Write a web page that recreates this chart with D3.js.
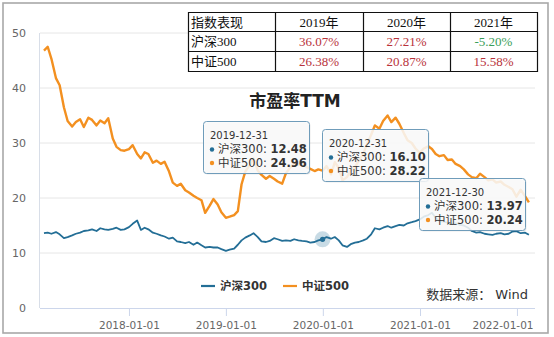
<!DOCTYPE html>
<html><head><meta charset="utf-8">
<script src="https://cdn.jsdelivr.net/npm/d3@7"></script>
<style>
html,body{margin:0;padding:0;background:#fff;}
svg{display:block;}
</style></head>
<body><svg id="c" width="554" height="337"></svg>
<script>
// ---------- data ----------
const dates = [
"2017-02-15","2017-03-01","2017-03-15","2017-04-01","2017-04-15","2017-05-01","2017-05-15","2017-06-01","2017-06-15","2017-07-01","2017-07-15","2017-08-01","2017-08-15","2017-09-01","2017-09-15","2017-10-01","2017-10-15","2017-11-01","2017-11-15","2017-12-01","2017-12-15",
"2018-01-01","2018-01-15","2018-02-01","2018-02-15","2018-03-01","2018-03-15","2018-04-01","2018-04-15","2018-05-01","2018-05-15","2018-06-01","2018-06-15","2018-07-01","2018-07-15","2018-08-01","2018-08-15","2018-09-01","2018-09-15","2018-10-01","2018-10-15","2018-11-01","2018-11-15","2018-12-01","2018-12-15",
"2019-01-01","2019-01-15","2019-02-01","2019-02-15","2019-03-01","2019-03-15","2019-04-01","2019-04-15","2019-05-01","2019-05-15","2019-06-01","2019-06-15","2019-07-01","2019-07-15","2019-08-01","2019-08-15","2019-09-01","2019-09-15","2019-10-01","2019-10-15","2019-11-01","2019-11-15","2019-12-01","2019-12-15","2019-12-31",
"2020-01-15","2020-02-01","2020-02-15","2020-03-01","2020-03-15","2020-04-01","2020-04-15","2020-05-01","2020-05-15","2020-06-01","2020-06-15","2020-07-01","2020-07-15","2020-08-01","2020-08-15","2020-09-01","2020-09-15","2020-10-01","2020-10-15","2020-11-01","2020-11-15","2020-12-01","2020-12-15","2020-12-31",
"2021-01-15","2021-02-01","2021-02-15","2021-03-01","2021-03-15","2021-04-01","2021-04-15","2021-05-01","2021-05-15","2021-06-01","2021-06-15","2021-07-01","2021-07-15","2021-08-01","2021-08-15","2021-09-01","2021-09-15","2021-10-01","2021-10-15","2021-11-01","2021-11-15","2021-12-01","2021-12-15","2021-12-30",
"2022-01-15","2022-02-01","2022-02-15"
];
const hs300 = [
13.6,13.7,13.5,13.8,13.4,12.7,12.9,13.2,13.5,13.7,14.0,14.1,14.3,14.0,14.5,14.3,14.2,14.4,14.6,14.2,14.3,
14.7,15.3,15.9,14.2,14.6,14.3,13.7,13.5,13.2,13.0,12.6,12.8,12.1,12.0,11.8,12.0,11.5,11.9,11.4,11.0,11.1,11.0,11.0,10.7,
10.4,10.6,10.8,11.5,12.3,12.8,13.2,13.6,12.9,12.1,12.0,12.2,12.7,12.5,12.2,12.3,12.2,12.5,12.3,12.2,12.1,11.9,12.0,12.3,12.48,
12.9,12.6,12.9,12.3,11.4,11.1,11.6,11.9,12.0,12.3,12.6,13.4,14.5,14.3,14.6,14.9,14.6,14.9,15.1,15.0,15.4,15.6,15.8,16.10,
16.6,16.9,17.3,16.4,15.8,15.7,15.5,15.3,15.4,15.1,15.0,14.6,14.0,13.7,13.8,13.5,13.4,13.3,13.5,13.6,13.4,13.5,13.9,13.97,
13.6,13.7,13.3
];
const zz500 = [
46.8,47.5,45.3,41.8,40.5,36.5,34.0,33.0,33.8,34.3,32.9,34.6,34.2,33.2,34.1,33.6,34.5,30.8,29.3,28.7,28.6,
28.9,29.6,28.0,27.2,28.3,28.0,26.4,26.8,26.2,26.6,24.8,22.8,22.2,22.6,21.4,21.0,20.4,20.0,19.6,17.3,18.6,19.8,18.8,17.4,
16.4,16.6,16.9,17.6,22.5,24.8,26.0,27.2,25.0,24.2,23.5,24.0,23.5,23.0,22.6,24.5,25.6,26.4,26.0,26.5,25.6,25.3,24.9,25.2,24.96,
25.8,24.3,26.5,25.5,23.2,23.8,25.0,25.6,26.8,28.0,29.8,31.5,33.2,32.6,34.0,35.0,33.8,34.6,33.5,31.8,30.5,30.0,29.0,28.22,
29.0,29.4,28.9,28.0,27.6,27.8,26.9,27.0,26.2,25.8,25.2,24.3,23.8,23.6,24.4,23.8,23.2,23.4,22.8,23.0,22.4,22.0,21.6,20.24,
21.5,20.3,19.2
];
const seriesNames = ["沪深300","中证500"];
const yTicks = [0,10,20,30,40,50];
const xTickLabels = ["2018-01-01","2019-01-01","2020-01-01","2021-01-01","2022-01-01"];
const tooltipDates = ["2019-12-31","2020-12-31","2021-12-30"];
const tableHeader = ["指数表现","2019年","2020年","2021年"];
const tableRows = [["沪深300","36.07%","27.21%","-5.20%"],["中证500","26.38%","20.87%","15.58%"]];
const chartTitle = "市盈率TTM";
const sourceNote = "数据来源： Wind";

// ---------- layout ----------
const W=554,H=337;
const L=40,R=535,T=33,B=308;
const blue="#236e96", orange="#f39020";
const font="'DejaVu Sans','Noto Sans CJK SC',sans-serif";
const tfont="'Liberation Serif','Noto Sans CJK SC',serif";
const parse=d3.timeParse("%Y-%m-%d");
const svg=d3.select("#c");

svg.append("rect").attr("x",3).attr("y",3).attr("width",545).attr("height",330)
  .attr("fill","#fff").attr("stroke","#a8a8a8").attr("stroke-width",1.6);

const x=d3.scaleTime().domain([parse("2017-01-31"),parse("2022-03-10")]).range([L,R]);
const y=d3.scaleLinear().domain([0,50]).range([B,T]);

// grid
svg.append("g").selectAll("line").data(yTicks.filter(v=>v>0)).join("line")
  .attr("x1",L).attr("x2",R).attr("y1",d=>y(d)).attr("y2",d=>y(d))
  .attr("stroke","#e6e6e6").attr("stroke-width",1);
// y axis line
svg.append("line").attr("x1",L-0.5).attr("x2",L-0.5).attr("y1",T).attr("y2",B).attr("stroke","#d8dee8");
// y labels
const yAxis=d3.axisLeft(y).tickValues(yTicks).tickSize(0).tickPadding(14);
const gy=svg.append("g").attr("transform",`translate(${L},0)`).call(yAxis);
gy.select(".domain").remove();
gy.selectAll("text").attr("font-family",font).attr("font-size",11).attr("fill","#666");

// x axis
const xAxis=d3.axisBottom(x).tickValues(xTickLabels.map(parse)).tickSize(8).tickPadding(6)
  .tickFormat(d3.timeFormat("%Y-%m-%d"));
const gx=svg.append("g").attr("transform",`translate(0,${B})`).call(xAxis);
gx.select(".domain").attr("stroke","#ccd6eb").attr("d",`M${L},0.5H${R}`);
gx.selectAll(".tick line").attr("stroke","#ccd6eb");
gx.selectAll("text").attr("font-family",font).attr("font-size",10.5).attr("fill","#666");
gx.selectAll(".tick text").filter((d,i)=>i===xTickLabels.length-1)
  .attr("text-anchor","end").attr("x",533-x(parse(xTickLabels[xTickLabels.length-1])));

// lines
const pts=(vals)=>dates.map((d,i)=>({d:parse(d),v:vals[i]}));
const line=d3.line().x(p=>x(p.d)).y(p=>y(p.v)).curve(d3.curveLinear);
svg.append("path").datum(pts(zz500)).attr("d",line).attr("fill","none")
  .attr("stroke",orange).attr("stroke-width",2.4).attr("stroke-linejoin","round");
svg.append("path").datum(pts(hs300)).attr("d",line).attr("fill","none")
  .attr("stroke",blue).attr("stroke-width",1.8).attr("stroke-linejoin","round");

// hover halo on first tooltip point
{
  const i=dates.indexOf(tooltipDates[0]);
  const cx=x(parse(dates[i])), cy=y(hs300[i]);
  svg.append("circle").attr("cx",cx).attr("cy",cy).attr("r",8).attr("fill",blue).attr("opacity",0.25);
  svg.append("circle").attr("cx",cx).attr("cy",cy).attr("r",2.6).attr("fill",blue);
}

// title
svg.append("text").attr("x",295).attr("y",107).attr("text-anchor","middle")
  .attr("font-family",font).attr("font-size",17).attr("font-weight","bold").attr("fill","#222")
  .text(chartTitle);

// legend
const lg=[{n:seriesNames[0],c:blue,x:201},{n:seriesNames[1],c:orange,x:283}];
lg.forEach(o=>{
  svg.append("line").attr("x1",o.x).attr("x2",o.x+14).attr("y1",286).attr("y2",286)
    .attr("stroke",o.c).attr("stroke-width",2.2);
  svg.append("text").attr("x",o.x+19).attr("y",290).attr("font-family",font)
    .attr("font-size",11.5).attr("font-weight","bold").attr("fill","#333").text(o.n);
});

// source
svg.append("text").attr("x",528).attr("y",299).attr("text-anchor","end")
  .attr("font-family",font).attr("font-size",13).attr("fill","#333").text(sourceNote);

// tooltips
const tipBoxes=[[203,121],[322,129],[419,178]];
tooltipDates.forEach((td,k)=>{
  const i=dates.indexOf(td);
  const [bx,by]=tipBoxes[k];
  const g=svg.append("g").attr("transform",`translate(${bx},${by})`);
  g.append("rect").attr("x",1.5).attr("y",1.5).attr("width",106).attr("height",52).attr("rx",3)
    .attr("fill","#000").attr("opacity",0.08);
  g.append("rect").attr("x",0.5).attr("y",0.5).attr("width",106).attr("height",52).attr("rx",3)
    .attr("fill","rgba(252,252,252,0.86)").attr("stroke","#6f9cba").attr("stroke-width",1);
  g.append("text").attr("x",7).attr("y",18).attr("font-family",font).attr("font-size",10)
    .attr("fill","#333").text(td);
  [[seriesNames[0],hs300[i],blue],[seriesNames[1],zz500[i],orange]].forEach((r,j)=>{
    const yy=32+j*13.5;
    g.append("circle").attr("cx",9).attr("cy",yy-3.5).attr("r",2.2).attr("fill",r[2]);
    const t=g.append("text").attr("x",15).attr("y",yy).attr("font-family",font)
      .attr("font-size",11.5).attr("fill","#333");
    t.append("tspan").text(r[0]+": ");
    t.append("tspan").attr("font-weight","bold").text(r[1].toFixed(2));
  });
});

// table
const tx=[188,275,363,450,537], ty=[12,31,51,71];
const tg=svg.append("g");
tg.append("rect").attr("x",tx[0]).attr("y",ty[0]).attr("width",tx[4]-tx[0]).attr("height",ty[3]-ty[0])
  .attr("fill","#fff");
tx.forEach(v=>tg.append("line").attr("x1",v+0.5).attr("x2",v+0.5).attr("y1",ty[0]).attr("y2",ty[3]+1).attr("stroke","#111").attr("stroke-width",1.2));
ty.forEach(v=>tg.append("line").attr("x1",tx[0]).attr("x2",tx[4]+1).attr("y1",v+0.5).attr("y2",v+0.5).attr("stroke","#111").attr("stroke-width",1.2));
const rows=[tableHeader,...tableRows];
rows.forEach((row,ri)=>{
  row.forEach((cell,ci)=>{
    const isNum=ri>0&&ci>0;
    const col=isNum?(cell.startsWith("-")?"#3a9e58":"#b8323a"):"#111";
    tg.append("text")
      .attr("x",ci===0?tx[0]+3:(tx[ci]+tx[ci+1])/2)
      .attr("y",ty[ri]+15)
      .attr("text-anchor",ci===0?"start":"middle")
      .attr("font-family",tfont).attr("font-size",13).attr("fill",col).text(cell);
  });
});
</script></body></html>
